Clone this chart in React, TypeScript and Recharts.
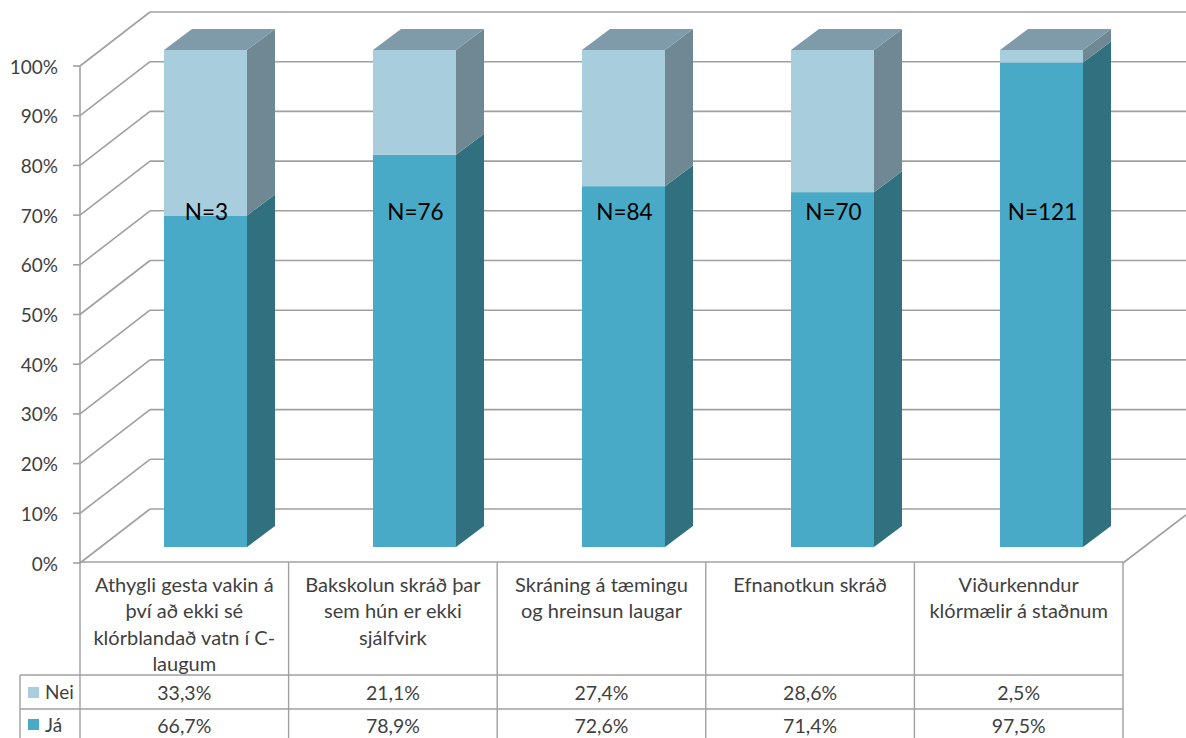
import { BarChart, Bar, XAxis, YAxis, CartesianGrid, LabelList } from 'recharts';

const categories = [
  'Athygli gesta vakin á það',
  'Bakskolun skráð',
  'Skráning á tæmingu',
  'Efnanotkun skráð',
  'Viðurkenndur klórmælir',
];
const categoryLines = [
  ['Athygli gesta vakin á', 'því að ekki sé', 'klórblandað vatn í C-', 'laugum'],
  ['Bakskolun skráð þar', 'sem hún er ekki', 'sjálfvirk'],
  ['Skráning á tæmingu', 'og hreinsun laugar'],
  ['Efnanotkun skráð'],
  ['Viðurkenndur', 'klórmælir á staðnum'],
];
const jaValues = [66.7, 78.9, 72.6, 71.4, 97.5];
const neiValues = [33.3, 21.1, 27.4, 28.6, 2.5];
const nValues = [3, 76, 84, 70, 121];
const yTicks = [0, 10, 20, 30, 40, 50, 60, 70, 80, 90, 100];

const data = categories.map((name, i) => ({
  name,
  ja: jaValues[i],
  nei: neiValues[i],
  n: nValues[i],
}));

const FONT = 'Lato, sans-serif';
const TEXT = '#3f3f3f';
const LINE = '#a0a0a0';
const JA = { front: '#48aac6', side: '#30707f' };
const NEI = { front: '#a8cddc', side: '#6f8894', top: '#7f9aa8' };
const DEPTH_X = 28;
const DEPTH_Y = 21;
const TABLE_LEFT = 80;
const CELL_W = 208.6;

const fmt = (v: number) => `${v.toFixed(1).replace('.', ',')}%`;

function Box({ x, y, width, height, colors, withTop }: any) {
  const r = x + width;
  return (
    <g>
      <rect x={x} y={y} width={width} height={height} fill={colors.front} />
      <polygon
        points={`${r},${y} ${r + DEPTH_X},${y - DEPTH_Y} ${r + DEPTH_X},${y + height - DEPTH_Y} ${r},${y + height}`}
        fill={colors.side}
      />
      {withTop && (
        <polygon
          points={`${x},${y} ${x + DEPTH_X},${y - DEPTH_Y} ${r + DEPTH_X},${y - DEPTH_Y} ${r},${y}`}
          fill={colors.top}
        />
      )}
    </g>
  );
}

// back wall and side wall lines, one set for each horizontal grid line
function WallLine({ y1, index }: any) {
  const front = y1 + 16;
  const back = y1 - 38;
  const isFloor = index === 0;
  return (
    <g>
      <line x1={73} y1={front} x2={80} y2={front} stroke={LINE} strokeWidth={1.6} />
      {!isFloor && <line x1={80} y1={front} x2={80} y2={front + 49.7} stroke={LINE} strokeWidth={1.6} />}
      <line x1={80} y1={front} x2={150} y2={back} stroke={LINE} strokeWidth={1.6} />
      <line x1={150} y1={back} x2={1186} y2={back} stroke={LINE} strokeWidth={1.6} />
      {isFloor && <line x1={1123} y1={front} x2={1186} y2={front - 48} stroke={LINE} strokeWidth={1.6} />}
    </g>
  );
}

function WallTick({ y, payload }: any) {
  return (
    <text x={58} y={y + 16} textAnchor="end" dominantBaseline="central" fontSize={19} fontFamily={FONT} fill={TEXT}>
      {payload.value}%
    </text>
  );
}

function TableTick({ y, index }: any) {
  const left = TABLE_LEFT + index * CELL_W;
  const right = left + CELL_W;
  const mid = left + CELL_W / 2;
  const common = { fontFamily: FONT, fill: TEXT, dominantBaseline: 'central' as const };
  return (
    <g>
      <line x1={left} y1={y + 15} x2={right} y2={y + 15} stroke={LINE} strokeWidth={1.6} />
      <line x1={left} y1={y + 128} x2={right} y2={y + 128} stroke={LINE} strokeWidth={1.4} />
      <line x1={left} y1={y + 162} x2={right} y2={y + 162} stroke={LINE} strokeWidth={1.4} />
      <line x1={right} y1={y + 15} x2={right} y2={y + 191} stroke={LINE} strokeWidth={1.4} />
      {index === 0 && (
        <g>
          <line x1={left} y1={y + 15} x2={left} y2={y + 191} stroke={LINE} strokeWidth={1.4} />
          <line x1={20} y1={y + 128} x2={left} y2={y + 128} stroke={LINE} strokeWidth={1.4} />
          <line x1={20} y1={y + 162} x2={left} y2={y + 162} stroke={LINE} strokeWidth={1.4} />
          <line x1={20} y1={y + 128} x2={20} y2={y + 191} stroke={LINE} strokeWidth={1.4} />
          <rect x={28} y={y + 140} width={11} height={11} fill={NEI.front} />
          <rect x={28} y={y + 172} width={11} height={11} fill={JA.front} />
          <text x={45} y={y + 144} fontSize={19} {...common}>Nei</text>
          <text x={45} y={y + 177} fontSize={19} {...common}>Já</text>
        </g>
      )}
      {categoryLines[index].map((line, i) => (
        <text key={line} x={mid} y={y + 37 + i * 26.3} textAnchor="middle" fontSize={20} {...common}>
          {line}
        </text>
      ))}
      <text x={mid} y={y + 145} textAnchor="middle" fontSize={19.5} {...common}>{fmt(neiValues[index])}</text>
      <text x={mid} y={y + 178} textAnchor="middle" fontSize={19.5} {...common}>{fmt(jaValues[index])}</text>
    </g>
  );
}

function NLabel({ x, y, width, value }: any) {
  return (
    <text
      x={x + width / 2 + 1}
      y={y + 161}
      textAnchor="middle"
      dominantBaseline="central"
      fontSize={22.5}
      fontFamily={FONT}
      fill="#000"
    >
      N={value}
    </text>
  );
}

export default function App() {
  return (
    <div style={{ position: 'absolute', left: 0, top: 0, width: 1186, height: 738, background: '#fff', overflow: 'hidden' }}>
      <BarChart
        width={1186}
        height={738}
        data={data}
        barSize={83}
        margin={{ top: 50, right: 40, left: 0, bottom: 0 }}
      >
        <CartesianGrid
          vertical={false}
          syncWithTicks
          horizontalValues={yTicks}
          horizontal={(props: any) => <WallLine key={props.index} {...props} />}
        />
        <YAxis
          width={101}
          domain={[0, 100]}
          ticks={yTicks}
          interval={0}
          axisLine={false}
          tickLine={false}
          tickSize={0}
          tickMargin={0}
          tick={(props: any) => <WallTick {...props} />}
        />
        <XAxis
          dataKey="name"
          height={191}
          interval={0}
          axisLine={false}
          tickLine={false}
          tickSize={0}
          tickMargin={0}
          tick={(props: any) => <TableTick {...props} />}
        />
        <Bar
          dataKey="ja"
          stackId="a"
          isAnimationActive={false}
          shape={(props: any) => <Box {...props} colors={JA} />}
        />
        <Bar
          dataKey="nei"
          stackId="a"
          isAnimationActive={false}
          shape={(props: any) => <Box {...props} colors={NEI} withTop />}
        >
          <LabelList dataKey="n" content={(props: any) => <NLabel {...props} />} />
        </Bar>
      </BarChart>
    </div>
  );
}
